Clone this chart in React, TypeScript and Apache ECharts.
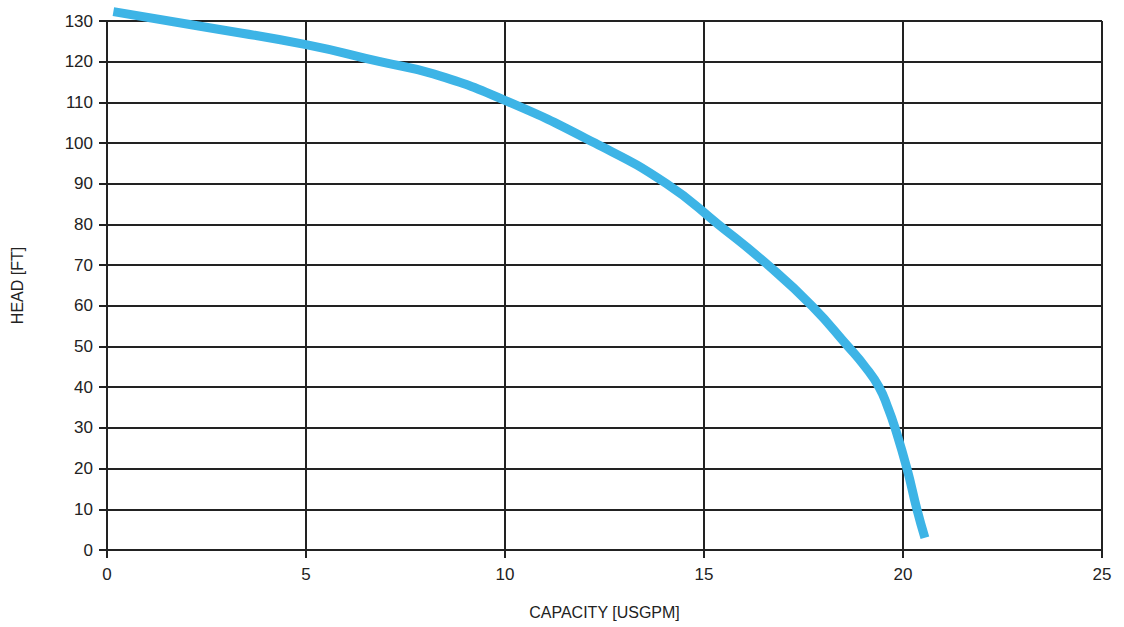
import React, { useEffect, useRef } from "react";
import * as echarts from "echarts";

const capacity = [0.16, 2.34, 5, 6.86, 8.2, 10, 12.26, 14.06, 15.36, 16.61, 17.71, 18.62, 19.05, 19.4, 19.62, 19.8, 20.1, 20.35, 20.55];
const head = [132.3, 128.7, 124.2, 120, 117, 110.5, 100, 90, 80, 70, 60, 50, 45, 40, 35, 30, 20, 10, 3];

export default function App() {
  const ref = useRef<HTMLDivElement>(null);
  useEffect(() => {
    const chart = echarts.init(ref.current!, undefined, { renderer: "svg" });
    const font = "'Liberation Sans', Arial, sans-serif";
    chart.setOption({
      animation: false,
      grid: { left: 107, right: 22, top: 21, bottom: 77 },
      xAxis: {
        type: "value",
        min: 0,
        max: 25,
        interval: 5,
        name: "CAPACITY [USGPM]",
        nameLocation: "middle",
        nameGap: 54,
        nameTextStyle: { fontFamily: font, fontSize: 16, color: "#222" },
        axisLine: { show: true, lineStyle: { color: "#222", width: 2 } },
        axisTick: { show: true, length: 8, lineStyle: { color: "#222", width: 2 } },
        axisLabel: { fontFamily: font, fontSize: 17, color: "#222", margin: 16 },
        splitLine: { show: true, lineStyle: { color: "#222", width: 2 } },
      },
      yAxis: {
        type: "value",
        min: 0,
        max: 130,
        interval: 10,
        name: "HEAD [FT]",
        nameLocation: "middle",
        nameGap: 82,
        nameTextStyle: { fontFamily: font, fontSize: 16, color: "#222" },
        axisLine: { show: true, lineStyle: { color: "#222", width: 2 } },
        axisTick: { show: true, length: 8, lineStyle: { color: "#222", width: 2 } },
        axisLabel: { fontFamily: font, fontSize: 17, color: "#222", margin: 14 },
        splitLine: { show: true, lineStyle: { color: "#222", width: 2 } },
      },
      series: [
        {
          type: "line",
          data: capacity.map((c, i) => [c, head[i]]),
          smooth: 0.5,
          showSymbol: false,
          clip: false,
          lineStyle: { color: "#3db4e6", width: 9 },
        },
      ],
    });
    return () => chart.dispose();
  }, []);
  return <div ref={ref} style={{ width: 1124, height: 627, position: "absolute", left: 0, top: 0 }} />;
}
